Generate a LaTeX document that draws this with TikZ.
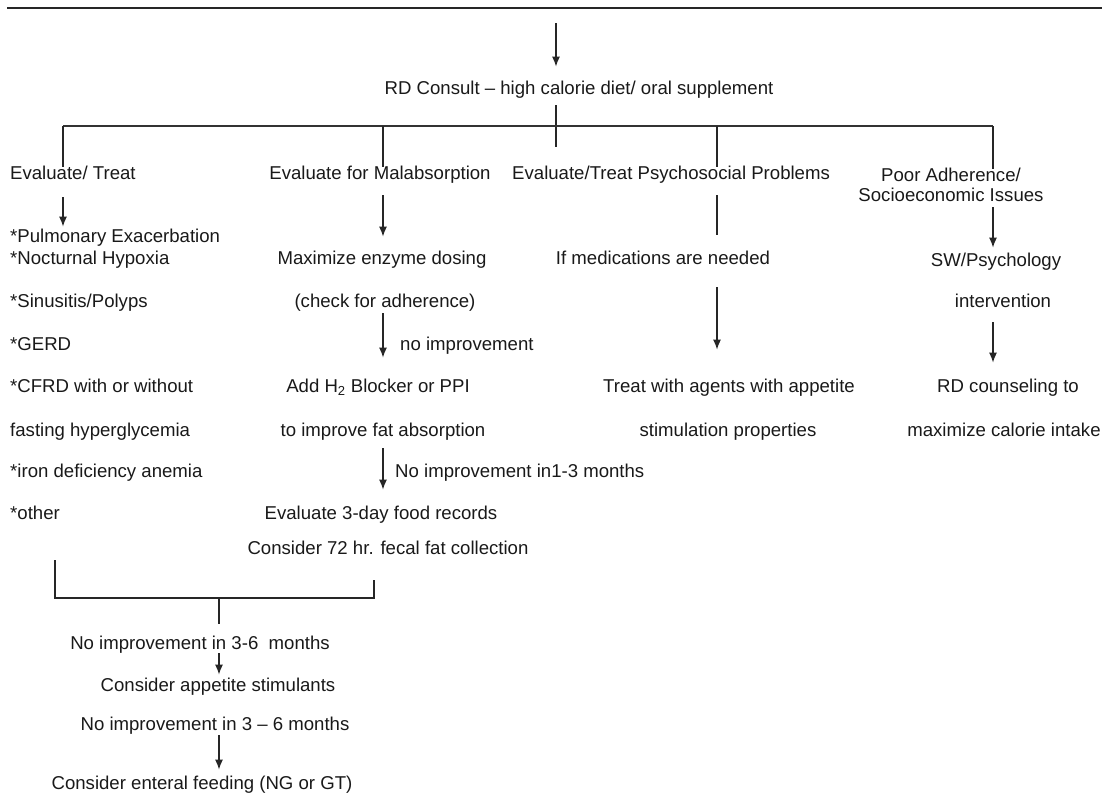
\documentclass[tikz,border=0pt]{standalone}
\usepackage{fontspec}
\setmainfont{Liberation Sans}
\usetikzlibrary{arrows.meta}

\begin{document}
\begin{tikzpicture}[
    x=1pt, y=-1pt,
    >={Latex[length=10pt,width=8pt]},
    entry/.style={
        inner sep=0pt,
        text height=13pt,
        text depth=3.5pt,
        font=\fontsize{18.6}{21}\selectfont,
        text=black!90
    },
    flow/.style={
        ->,
        line width=1.1pt,
        draw=black!85
    },
    joint/.style={
        line width=1.1pt,
        draw=black!85
    },
    bar/.style={
        line width=1.8pt,
        draw=black!80
    }
    ]
    \useasboundingbox (0,0) rectangle (1102,795);
    \draw[line width=1.5pt, black!85] (7,8) -- (1102,8);

    % top of the chart
    \coordinate (TOP) at (556,23);
    \node[entry] (RD) at (579,90) {RD Consult -- high calorie diet/ oral supplement};
    \draw[flow, shorten >=15pt] (TOP) -- (RD.north -| TOP);
    \coordinate (STEM) at (556,147);
    \draw[joint, shorten <=7pt] (RD.south -| STEM) -- (STEM);

    \coordinate (BARL) at (63,126);
    \coordinate (MALX) at (383,126);
    \coordinate (PSYX) at (717,126);
    \coordinate (BARR) at (993,126);
    \draw[bar] (BARL) -- (BARR);

    % column heads
    \node[entry,anchor=west] (EVT) at (10,175) {Evaluate/ Treat};
    \node[entry] (MAL) at (380,175) {Evaluate for Malabsorption};
    \node[entry,anchor=west] (PSY) at (512,175) {Evaluate/Treat Psychosocial Problems};
    \node[entry] (POOR) at (951,177) {Poor Adherence/};
    \node[entry] (SOCIO) at (951,197) {Socioeconomic Issues};

    \draw[joint] (BARL) -- (EVT.north -| BARL);
    \draw[joint] (MALX) -- (MAL.north -| MALX);
    \draw[joint] (PSYX) -- (PSY.north -| PSYX);
    \draw[joint] (BARR) -- (POOR.north -| BARR);

    % first column
    \node[entry,anchor=west] (PULM) at (10,238) {*Pulmonary Exacerbation};
    \node[entry,anchor=west] (NOCT) at (10,260) {*Nocturnal Hypoxia};
    \node[entry,anchor=west] (SINU) at (10,303) {*Sinusitis/Polyps};
    \node[entry,anchor=west] (GERD) at (10,346) {*GERD};
    \node[entry,anchor=west] (CFRD) at (10,388) {*CFRD with or without};
    \node[entry,anchor=west] (FAST) at (10,432) {fasting hyperglycemia};
    \node[entry,anchor=west] (IRON) at (10,473) {*iron deficiency anemia};
    \node[entry,anchor=west] (OTHER) at (10,515) {*other};
    \draw[flow, shorten <=14pt, shorten >=3pt] (EVT.south -| BARL) -- (PULM.north -| BARL);

    % second column
    \node[entry] (MAXE) at (382,260) {Maximize enzyme dosing};
    \node[entry] (CHECK) at (385,303) {(check for adherence)};
    \node[entry,anchor=west] (NOIMP) at (400,346) {no improvement};
    \node[entry] (ADDH) at (378,388) {Add H\textsubscript{2} Blocker or PPI};
    \node[entry] (IMPF) at (383,432) {to improve fat absorption};
    \node[entry,anchor=west] (NOIMPB) at (395,473) {No improvement in1-3 months};
    \node[entry] (EVAL3) at (381,515) {Evaluate 3-day food records};
    \node[entry] (CONS72) at (388,550) {Consider 72 hr. fecal fat collection};
    \draw[flow, shorten <=12pt, shorten >=15pt] (MAL.south -| MALX) -- (MAXE.north -| MALX);
    \draw[flow, shorten <=2pt, shorten >=22pt] (CHECK.south -| MALX) -- (ADDH.north -| MALX);
    \draw[flow, shorten <=8pt, shorten >=17pt] (IMPF.south -| MALX) -- (EVAL3.north -| MALX);

    % third column
    \node[entry] (IFMED) at (663,260) {If medications are needed};
    \node[entry] (TREAT) at (729,388) {Treat with agents with appetite};
    \node[entry] (STIM) at (728,432) {stimulation properties};
    \draw[joint, shorten <=12pt, shorten >=17pt] (PSY.south -| PSYX) -- (IFMED.north -| PSYX);
    \draw[flow, shorten <=19pt, shorten >=30pt] (IFMED.south -| PSYX) -- (TREAT.north -| PSYX);

    % fourth column
    \node[entry] (SW) at (996,262) {SW/Psychology};
    \node[entry] (INTERV) at (1003,303) {intervention};
    \node[entry] (RDC) at (1008,388) {RD counseling to};
    \node[entry] (MAXC) at (1004,432) {maximize calorie intake};
    \draw[flow, shorten <=2pt, shorten >=6pt] (SOCIO.south -| BARR) -- (SW.north -| BARR);
    \draw[flow, shorten <=11pt, shorten >=17pt] (INTERV.south -| BARR) -- (RDC.north -| BARR);

    % joining bracket and last steps
    \coordinate (BRL) at (55,598);
    \coordinate (BRM) at (219,598);
    \coordinate (BRR) at (374,598);
    \node[entry] (N36) at (200,645) {No improvement in 3-6~ months};
    \node[entry] (APPET) at (218,687) {Consider appetite stimulants};
    \node[entry] (N36B) at (215,726) {No improvement in 3 -- 6 months};
    \node[entry] (ENT) at (202,785) {Consider enteral feeding (NG or GT)};
    \draw[joint, shorten <=37pt, shorten >=22pt] (OTHER.south -| BRL) -- (BRL) -- (BRR) -- (CONS72.south -| BRR);
    \draw[joint, shorten >=13pt] (BRM) -- (N36.north -| BRM);
    \draw[flow, shorten >=4pt] (N36.south -| BRM) -- (APPET.north -| BRM);
    \draw[flow, shorten <=1pt, shorten >=7pt] (N36B.south -| BRM) -- (ENT.north -| BRM);
\end{tikzpicture}
\end{document}
